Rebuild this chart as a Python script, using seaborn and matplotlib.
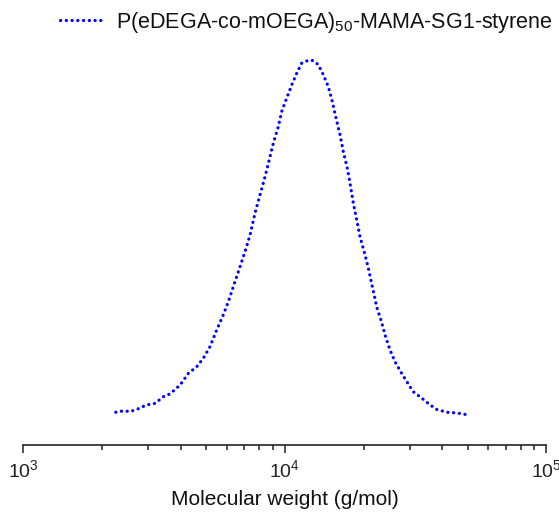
import numpy as np
import pandas as pd
import matplotlib
matplotlib.use("Agg")
import matplotlib.pyplot as plt
import seaborn as sns
from matplotlib.ticker import LogLocator, LogFormatterSciNotation, NullFormatter

# GPC trace: molecular weight (g/mol) and normalised detector response
mol_weight = [2256, 2412, 2559, 2715, 2964, 3188, 3431, 3639, 3975, 4276,
              4605, 4880, 5176, 5490, 5819, 6080, 6355, 6641, 7043, 7362,
              7691, 8039, 8401, 8779, 9036, 9443, 9730, 10168, 10627, 11104,
              11604, 12128, 12596, 13047, 13431, 14036, 14669, 15194, 15699, 16261,
              16739, 17338, 17755, 18281, 18836, 19392, 20265, 20862, 21800, 22463,
              23478, 24169, 25257, 26393, 27990, 29254, 31000, 33389, 35924, 38105,
              41602, 45437, 48886]
response = [0.002, 0.006, 0.004, 0.010, 0.023, 0.027, 0.046, 0.054, 0.079, 0.112,
            0.131, 0.155, 0.188, 0.235, 0.278, 0.315, 0.358, 0.400, 0.457, 0.504,
            0.566, 0.618, 0.669, 0.726, 0.764, 0.811, 0.854, 0.892, 0.929, 0.962,
            0.991, 0.997, 1.000, 0.995, 0.986, 0.958, 0.924, 0.882, 0.835, 0.788,
            0.740, 0.693, 0.651, 0.594, 0.547, 0.499, 0.448, 0.410, 0.345, 0.300,
            0.256, 0.221, 0.178, 0.145, 0.112, 0.089, 0.060, 0.042, 0.023, 0.010,
            0.002, 0.000, -0.004]
series_name = "P(eDEGA-co-mOEGA)$_{50}$-MAMA-SG1-styrene"
x_label = "Molecular weight (g/mol)"

df = pd.DataFrame({"M": mol_weight, "signal": response, "sample": series_name})

sns.set_theme(style="white")
plt.rcParams["font.family"] = ["Liberation Sans", "DejaVu Sans"]
plt.rcParams["mathtext.fontset"] = "custom"
plt.rcParams["mathtext.rm"] = "Liberation Sans"
plt.rcParams["mathtext.it"] = "Liberation Sans:italic"
plt.rcParams["mathtext.default"] = "regular"

fig = plt.figure(figsize=(5.59, 5.12), dpi=100)
ax = fig.add_axes([0.0417, 0.1309, 0.9356, 0.7911])

dotted = (0, (0.05, 1.75))
sns.lineplot(data=df, x="M", y="signal", hue="sample", palette=["#0000ff"],
             estimator=None, sort=True, ax=ax, linewidth=2.3,
             linestyle=dotted, dash_capstyle="round")

ax.set_xscale("log")
ax.set_xlim(1e3, 1e5)
ax.set_ylim(-0.0907, 1.0567)

ax.xaxis.set_major_locator(LogLocator(base=10, numticks=10))
ax.xaxis.set_major_formatter(LogFormatterSciNotation())
ax.xaxis.set_minor_locator(LogLocator(base=10, subs=np.arange(2, 10), numticks=20))
ax.xaxis.set_minor_formatter(NullFormatter())
ax.tick_params(axis="x", which="major", direction="out", length=6, width=1.1,
               color="#222222", labelsize=14, pad=4, bottom=True,
               labelcolor="#222222")
ax.tick_params(axis="x", which="minor", direction="out", length=3.5, width=1.1,
               color="#222222", bottom=True)
ax.set_yticks([])
ax.set_ylabel("")
ax.set_xlabel(x_label, fontsize=15, labelpad=7, color="#111111")

for side in ("left", "right", "top"):
    ax.spines[side].set_visible(False)
ax.spines["bottom"].set_color("#222222")
ax.spines["bottom"].set_linewidth(1.2)

leg = ax.legend(loc="upper right", bbox_to_anchor=(1.016, 1.01),
                bbox_transform=fig.transFigure, frameon=False, fontsize=15.5,
                handlelength=2.0, handletextpad=0.6, borderaxespad=0.3)
for text in leg.get_texts():
    text.set_color("#111111")
for line in leg.get_lines():
    line.set_linewidth(2.3)
    line.set_linestyle(dotted)
    line.set_dash_capstyle("round")

fig.savefig("out.png", dpi=100, facecolor="white")
